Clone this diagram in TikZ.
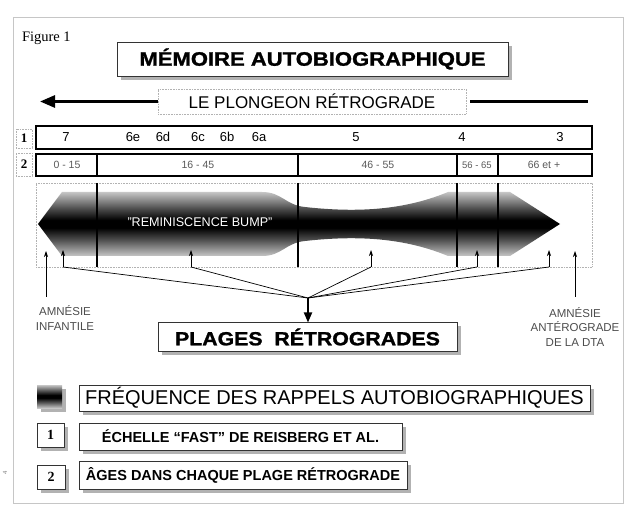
\documentclass[tikz,border=0pt]{standalone}
\usepackage{fontspec}
\setmainfont{Liberation Sans}
\newfontfamily\tms{Liberation Serif}
\newfontfamily\heavy[FakeBold=1.2]{Liberation Sans Bold}
\usepackage{graphicx}
\usetikzlibrary{arrows.meta,shadows}
\pgfdeclareverticalshading{bandshade}{100bp}{color(0bp)=(gray!45); color(25bp)=(gray!45); color(38bp)=(black!70); color(47bp)=(black); color(53bp)=(black); color(62bp)=(black!70); color(75bp)=(gray!45); color(100bp)=(gray!45)}
\newcommand{\fs}[1]{\fontsize{#1}{#1}\selectfont}
\begin{document}
\begin{tikzpicture}[x=1pt,y=-1pt,
  every node/.style={inner sep=0pt,outer sep=0pt},
  shbox/.style={draw=black!80,line width=0.6pt,fill=white,
    drop shadow={shadow xshift=4pt,shadow yshift=-4pt,fill=gray!60,opacity=1}},
  lightbox/.style={draw=gray!60,line width=0.6pt,densely dotted,fill=white},
  rowbox/.style={draw=black,line width=1.4pt},
  divline/.style={black,line width=1.2pt},
  smallarrow/.style={black,line width=0.7pt,-{Stealth[length=6pt,width=4pt]}},
  thinline/.style={black,line width=0.7pt},
  rowone/.style={font=\fs{13},anchor=base},
  rowtwo/.style={font=\fs{10.5},text=black!65,anchor=base},
  sidelabel/.style={font=\fs{11.5},text=black!70,align=center}
]
\useasboundingbox (0,0) rectangle (640,521);
% outer frame
\draw[gray!45,line width=0.8pt] (13,17) rectangle (623,503);
\node[font=\tms\fs{14.5},anchor=west] (fig) at (22,38) {Figure 1};
\node[rotate=90,font=\fs{6},text=gray] (pg) at (5,473) {4};

% title
\node[shbox,minimum width=391pt,minimum height=34pt] (mem) at (312.5,59)
  {\fs{19.5}\heavy\scalebox{1.13}[1]{MÉMOIRE AUTOBIOGRAPHIQUE}};

% plongeon
\node[lightbox,minimum width=308pt,minimum height=25pt] (plong) at (312,101.5)
  {\fs{17}LE PLONGEON RÉTROGRADE};
\coordinate (lt) at (40,101.5);
\coordinate (rt) at (588,101.5);
\draw[line width=2.8pt,-{Triangle[length=15pt,width=12pt]}] (plong.west) -- (lt);
\draw[line width=2.8pt] ([xshift=4pt]plong.east) -- (rt);

% row labels
\node[lightbox,minimum width=16pt,minimum height=19pt] (l1) at (24,138.5) {\tms\bfseries\fs{13}1};
\node[lightbox,minimum width=16pt,minimum height=23pt] (l2) at (24,164.5) {\tms\bfseries\fs{13}2};

% row 1
\node[rowbox,minimum width=556pt,minimum height=23pt] (row1) at (314,137.5) {};
\node[rowone] (n7) at (66,142) {7};
\node[rowone] (n6e) at (133,142) {6e};
\node[rowone] (n6d) at (163,142) {6d};
\node[rowone] (n6c) at (198,142) {6c};
\node[rowone] (n6b) at (227,142) {6b};
\node[rowone] (n6a) at (259,142) {6a};
\node[rowone] (n5) at (356,142) {5};
\node[rowone] (n4) at (462,142) {4};
\node[rowone] (n3) at (560,142) {3};

% row 2
\node[rowbox,minimum width=556pt,minimum height=22pt] (row2) at (314,165) {};
\draw[divline] (97,154) -- (97,176);
\draw[divline] (298,154) -- (298,176);
\draw[divline] (457,154) -- (457,176);
\draw[divline] (498,154) -- (498,176);
\node[rowtwo] (a1) at (67,168.5) {0 - 15};
\node[rowtwo] (a2) at (198,168.5) {16 - 45};
\node[rowtwo] (a3) at (378,168.5) {46 - 55};
\node[rowtwo,font=\fs{9.5}] (a4) at (477,168.5) {56 - 65};
\node[rowtwo] (a5) at (544,168.5) {66 et +};

% frequency box
\node[lightbox,minimum width=556pt,minimum height=84pt] (big) at (314,225) {};
\shade[shading=bandshade]
  (38,224) -- (62,192) -- (262,192)
  .. controls (282,192) and (285,205) .. (305,207)
  .. controls (350,212) and (400,212) .. (448,192)
  -- (510,192) -- (560,224) -- (510,256) -- (448,256)
  .. controls (400,236) and (350,236) .. (305,241)
  .. controls (285,243) and (282,256) .. (262,256)
  -- (62,256) -- cycle;
\draw[divline] (97,183) -- (97,267);
\draw[divline] (298,183) -- (298,267);
\draw[divline] (457,183) -- (457,267);
\draw[divline] (498,183) -- (498,267);
\node[text=white,font=\fs{12.6}] (bump) at (200,222) {"REMINISCENCE BUMP"};

% arrows
\coordinate (c) at (308,298);
\coordinate (tL) at (46,251);
\coordinate (bL) at (46,297);
\coordinate (tR) at (575,251);
\coordinate (bR) at (575,297);
\coordinate (t1) at (63,250);  \coordinate (b1) at (63,267);
\coordinate (t2) at (191,250); \coordinate (b2) at (191,267);
\coordinate (t3) at (371,250); \coordinate (b3) at (371,267);
\coordinate (t4) at (477,250); \coordinate (b4) at (477,267);
\coordinate (t5) at (549,250); \coordinate (b5) at (549,267);
\draw[smallarrow] (bL) -- (tL);
\draw[smallarrow] (bR) -- (tR);
\foreach \i in {1,...,5}{
  \draw[smallarrow] (b\i) -- (t\i);
  \draw[thinline] (b\i) -- (c);
}

\node[sidelabel] (amL) at (65,318) {AMNÉSIE\\[3pt]INFANTILE};
\node[sidelabel] (amR) at (575,327) {AMNÉSIE\\[3pt]ANTÉROGRADE\\[3pt]DE LA DTA};

% plages
\node[shbox,minimum width=299pt,minimum height=29pt] (plages) at (307.5,337)
  {\fs{19}\heavy\scalebox{1.12}[1]{PLAGES\ \ RÉTROGRADES}};
\draw[line width=1.8pt,-{Triangle[length=10pt,width=8pt]}] (c) -- (plages.north -| c);

% legend
\shade[shading=bandshade,drop shadow={shadow xshift=4pt,shadow yshift=-4pt,fill=gray!60,opacity=1}] (37,385) rectangle (62,408);
\node[shbox,minimum width=511pt,minimum height=26pt] (freq) at (334.5,398)
  {\fs{20}FRÉQUENCE DES RAPPELS AUTOBIOGRAPHIQUES};
\node[shbox,minimum width=27pt,minimum height=24pt] (g1) at (50.5,435) {\tms\bfseries\fs{14}1};
\node[shbox,minimum width=323pt,minimum height=27pt] (ech) at (240.5,436.5)
  {\fs{14.5}\bfseries ÉCHELLE “FAST” DE REISBERG ET AL.};
\node[shbox,minimum width=28pt,minimum height=24pt] (g2) at (51,477) {\tms\bfseries\fs{14}2};
\node[shbox,minimum width=328pt,minimum height=28pt] (ages) at (243,475)
  {\fs{14.5}\bfseries ÂGES DANS CHAQUE PLAGE RÉTROGRADE};
\end{tikzpicture}
\end{document}
